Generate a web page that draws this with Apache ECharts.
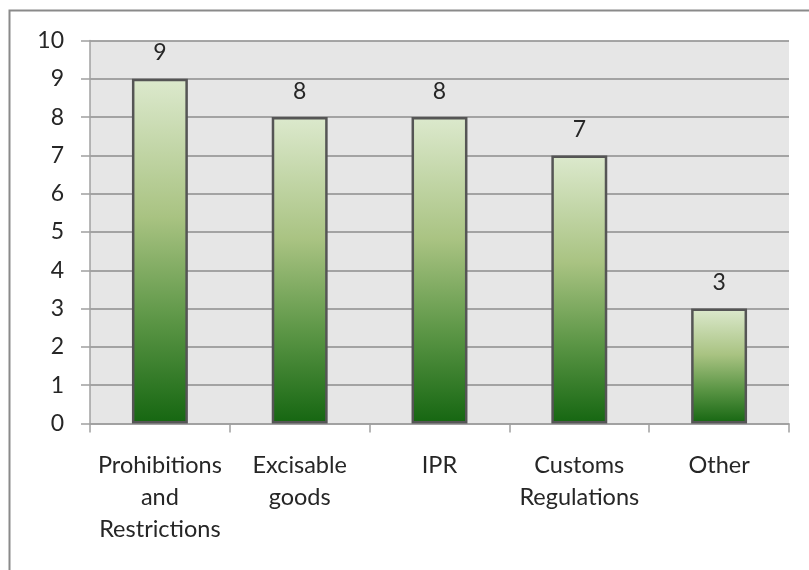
<!DOCTYPE html>
<html>
<head>
<meta charset="utf-8">
<script src="https://cdn.jsdelivr.net/npm/echarts@6/dist/echarts.min.js"></script>
<style>
html,body{margin:0;padding:0;background:#fff;}
#chart{width:809px;height:570px;}
</style>
</head>
<body>
<div id="chart"></div>
<script>
const categories = ['Prohibitions\nand\nRestrictions', 'Excisable\ngoods', 'IPR', 'Customs\nRegulations', 'Other'];
const values = [9, 8, 8, 7, 3];
const yTicks = { min: 0, max: 10, interval: 1 };

const chart = echarts.init(document.getElementById('chart'), null, { renderer: 'canvas' });
const font = "Lato, 'Open Sans', sans-serif";
const barGradient = new echarts.graphic.LinearGradient(0, 0, 0, 1, [
  { offset: 0, color: '#dce9cd' },
  { offset: 0.4, color: '#a9c382' },
  { offset: 0.7, color: '#5c9646' },
  { offset: 1, color: '#156611' }
]);
chart.setOption({
  animation: false,
  backgroundColor: '#ffffff',
  graphic: [{
    type: 'rect',
    shape: { x: 9.5, y: 10.5, width: 900, height: 700 },
    style: { fill: 'none', stroke: '#8a8a8a', lineWidth: 2 },
    z: 100
  }],
  grid: {
    left: 90, right: 20, top: 40.5, bottom: 146.5,
    show: true, backgroundColor: '#e6e6e6', borderWidth: 0
  },
  xAxis: {
    type: 'category',
    data: categories,
    axisLine: { lineStyle: { color: '#a0a0a0', width: 1.5 } },
    axisTick: { show: true, length: 9, lineStyle: { color: '#a0a0a0', width: 1.5 } },
    axisLabel: {
      interval: 0, color: '#262626', fontFamily: font, fontSize: 23.5,
      lineHeight: 32, margin: 26
    }
  },
  yAxis: {
    type: 'value',
    min: yTicks.min, max: yTicks.max, interval: yTicks.interval,
    axisLine: { show: true, lineStyle: { color: '#a0a0a0', width: 1.5 } },
    axisTick: { show: true, length: 9, lineStyle: { color: '#a0a0a0', width: 1.5 } },
    splitLine: { lineStyle: { color: '#8c8c8c', width: 1.5 } },
    axisLabel: { color: '#262626', fontFamily: font, fontSize: 23, margin: 26 }
  },
  series: [{
    type: 'bar',
    data: values,
    barWidth: '40%',
    itemStyle: { color: barGradient, borderColor: '#555555', borderWidth: 2.5 },
    label: {
      show: true, position: 'top', distance: 14.5,
      color: '#262626', fontFamily: font, fontSize: 23
    }
  }]
});
</script>
</body>
</html>
